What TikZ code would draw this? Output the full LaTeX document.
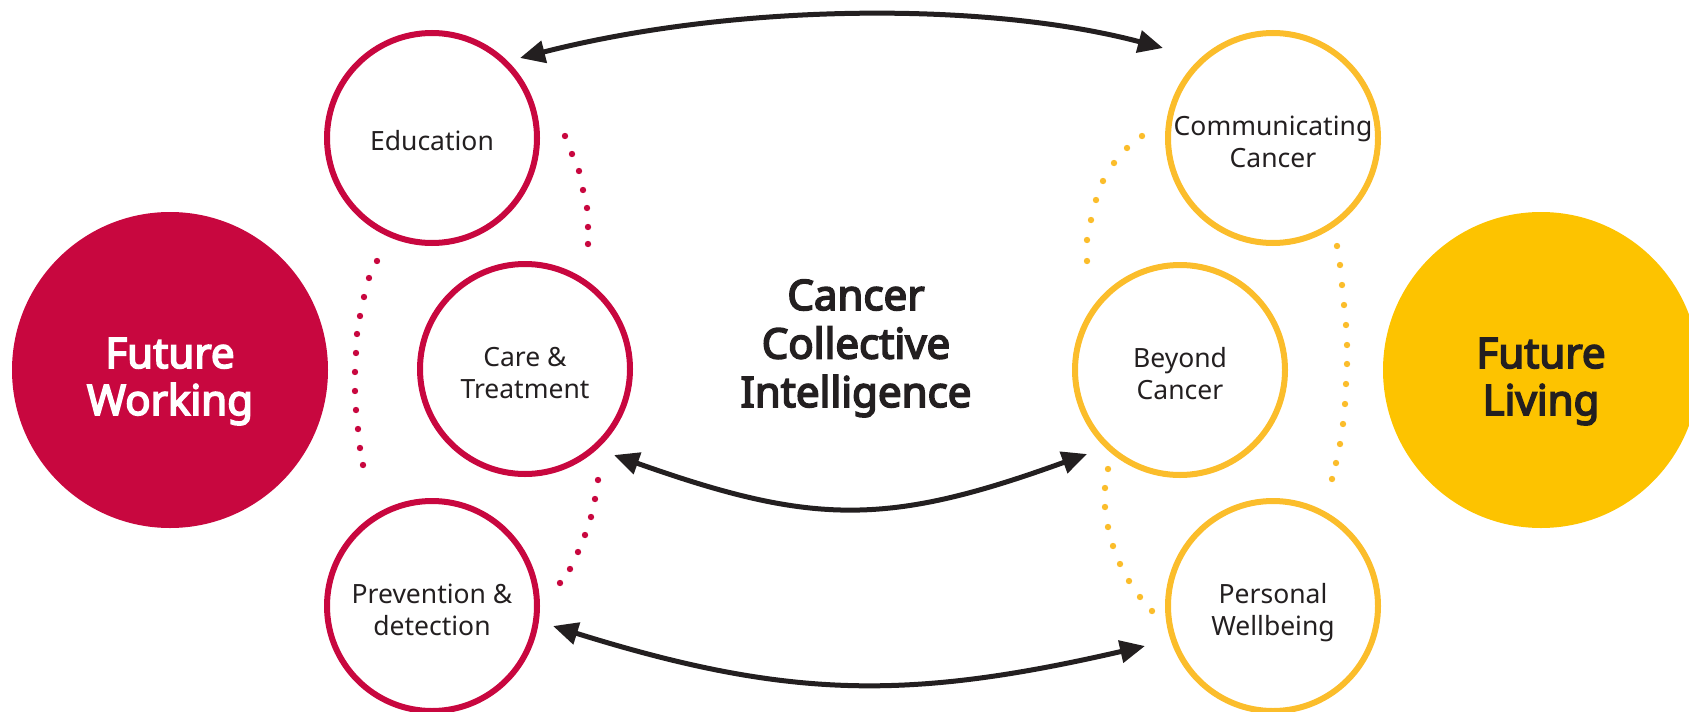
\documentclass[tikz,border=0pt]{standalone}
\usepackage{fontspec}
\setmainfont{Noto Sans}
\newfontfamily\heavy{Noto Sans}[FakeBold=4]
\usetikzlibrary{arrows.meta,calc}
\definecolor{cred}{HTML}{C8073F}
\definecolor{cyel}{HTML}{FDC300}
\definecolor{cyelo}{HTML}{FBBD2B}
\definecolor{ink}{HTML}{231F20}
\begin{document}
\begin{tikzpicture}[x=1pt,y=-1pt,
  bigdisc/.style={circle,minimum size=316pt,inner sep=0pt},
  biglabel/.style={inner sep=0pt,font=\heavy\fontsize{42}{47}\selectfont,align=center,text depth=0pt,text height=90pt},
  ring/.style={circle,minimum size=210pt,inner sep=0pt,line width=6pt,draw,font=\fontsize{26.5}{31.5}\selectfont,text=ink,align=center,text depth=0pt,text height=58pt},
  oneline/.style={text height=25pt},
  redring/.style={ring,draw=cred},
  yelring/.style={ring,draw=cyelo},
  arr/.style={line width=5pt,draw=ink,{Triangle[length=25pt,width=22pt]}-{Triangle[length=25pt,width=22pt]}}
]
\useasboundingbox (0,0) rectangle (1689,712);
\clip (0,0) rectangle (1689,712);

\node[bigdisc,fill=cred] (fw) at (170,370) {};
\node[bigdisc,fill=cyel] (fl) at (1541,370) {};
\node[biglabel,text=white] (fwt) at (fw) {Future\\Working};
\node[biglabel,text=ink] (flt) at (fl) {Future\\Living};

\node[redring,oneline] (edu) at (432,138) {Education};
\node[redring] (care) at (525,369) {Care \&\\Treatment};
\node[redring] (prev) at (432,606) {Prevention \&\\detection};
\node[yelring] (comm) at (1273,138) {Communicating\\Cancer};
\node[yelring] (beyond) at (1180,370) {Beyond\\Cancer};
\node[yelring] (pers) at (1273,606) {Personal\\Wellbeing};

\node[font=\heavy\fontsize{42}{48.5}\selectfont,text=ink,align=center,inner sep=0pt,text depth=0pt,text height=130pt] (cci) at (856,342) {Cancer\\Collective\\Intelligence};

% arrow tips
\coordinate (ta) at ($(edu)+(88,-80)$);
\coordinate (tb) at ($(comm)+(-110,-90)$);
\coordinate (ma) at ($(care)+(89,86)$);
\coordinate (mb) at ($(beyond)+(-93,84)$);
\coordinate (ba) at ($(prev)+(121,20)$);
\coordinate (bb) at ($(pers)+(-128,40)$);

\draw[arr] (ta) .. controls (740,2) and (990,2) .. (tb);
\draw[arr] (ma) .. controls (814,526) and (888,526) .. (mb);
\draw[arr] (ba) .. controls (790,700) and (910,700) .. (bb);

% dotted arcs
\foreach \x/\y in {377/261,369/278,364/297,360/316,357/334,356/353,355/372,355/391,356/410,358/429,360/448,363/465}
  \fill[cred] (\x,\y) circle (3.2);
\foreach \x/\y in {565/136,572/154,579/171,583/190,587/208,588/227,588/244}
  \fill[cred] (\x,\y) circle (3.2);
\foreach \x/\y in {598/480,595/499,591/517,585/535,578/552,570/569,560/583}
  \fill[cred] (\x,\y) circle (3.2);
\foreach \x/\y in {1142/136,1127/148,1114/163,1103/181,1096/200,1091/220,1087/240,1087/261}
  \fill[cyelo] (\x,\y) circle (3.2);
\foreach \x/\y in {1337/246,1340/265,1342/285,1344/305,1346/325,1347/345,1347/364,1346/384,1345/404,1343/424,1340/444,1336/463,1332/479}
  \fill[cyelo] (\x,\y) circle (3.2);
\foreach \x/\y in {1108/469,1105/488,1105/507,1108/527,1113/546,1120/564,1129/581,1140/597,1152/611}
  \fill[cyelo] (\x,\y) circle (3.2);
\end{tikzpicture}
\end{document}
